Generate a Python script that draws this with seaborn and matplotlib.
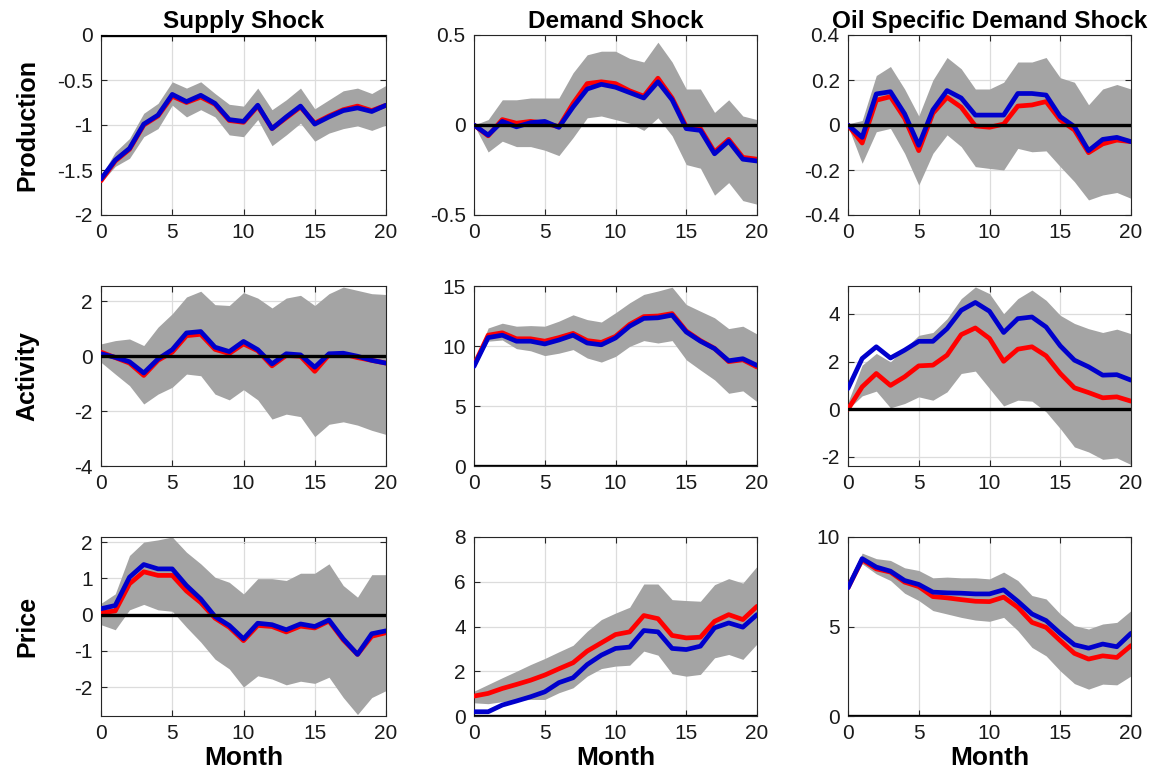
import numpy as np
import pandas as pd
import matplotlib
matplotlib.use("Agg")
import matplotlib.pyplot as plt
from matplotlib.ticker import FuncFormatter
import seaborn as sns

sns.set_style("ticks")
plt.rcParams["font.family"] = ["Liberation Sans", "DejaVu Sans"]
plt.rcParams["axes.unicode_minus"] = False

months = np.arange(21)

# ---- Production responses ----
sp_blue = [-1.60, -1.39, -1.26, -0.99, -0.89, -0.66, -0.74, -0.67, -0.76, -0.94, -0.96,
           -0.78, -1.04, -0.91, -0.79, -0.99, -0.91, -0.84, -0.81, -0.85, -0.78]
sp_red = [-1.62, -1.40, -1.27, -1.00, -0.90, -0.68, -0.75, -0.69, -0.77, -0.95, -0.97,
          -0.79, -1.04, -0.92, -0.80, -0.98, -0.90, -0.83, -0.79, -0.84, -0.78]
sp_hi = [-1.57, -1.30, -1.15, -0.87, -0.76, -0.52, -0.59, -0.52, -0.65, -0.77, -0.79,
         -0.59, -0.83, -0.72, -0.59, -0.82, -0.72, -0.62, -0.59, -0.65, -0.56]
sp_lo = [-1.64, -1.46, -1.37, -1.13, -1.04, -0.78, -0.91, -0.83, -0.91, -1.11, -1.13,
         -0.94, -1.23, -1.11, -0.98, -1.18, -1.09, -1.04, -1.01, -1.06, -1.00]

dp_blue = [0, -0.056, 0.02, -0.01, 0.013, 0.02, -0.013, 0.10, 0.20, 0.226, 0.21,
           0.18, 0.15, 0.24, 0.14, -0.02, -0.03, -0.16, -0.09, -0.19, -0.20]
dp_red = [0, -0.06, 0.03, 0.01, 0.02, 0.01, -0.01, 0.12, 0.23, 0.24, 0.23,
          0.19, 0.16, 0.26, 0.15, -0.01, -0.02, -0.15, -0.08, -0.18, -0.19]
dp_hi = [0, 0.03, 0.14, 0.14, 0.15, 0.15, 0.15, 0.29, 0.39, 0.41, 0.41,
         0.37, 0.35, 0.46, 0.35, 0.20, 0.20, 0.07, 0.14, 0.05, 0.03]
dp_lo = [0, -0.15, -0.09, -0.12, -0.12, -0.14, -0.17, -0.07, 0.04, 0.05, 0.03,
         0.01, -0.03, 0.04, -0.06, -0.22, -0.24, -0.39, -0.32, -0.42, -0.44]

op_blue = [0, -0.055, 0.138, 0.148, 0.05, -0.09, 0.067, 0.153, 0.12, 0.044, 0.044,
           0.044, 0.14, 0.14, 0.133, 0.037, -0.007, -0.114, -0.064, -0.055, -0.074]
op_red = [0, -0.08, 0.11, 0.126, 0.03, -0.114, 0.052, 0.123, 0.079, -0.004, -0.01,
          0.004, 0.084, 0.089, 0.104, 0.022, -0.022, -0.123, -0.084, -0.067, -0.074]
op_hi = [0.005, 0.02, 0.22, 0.26, 0.16, 0.04, 0.20, 0.30, 0.25, 0.16, 0.16,
         0.19, 0.28, 0.28, 0.30, 0.21, 0.19, 0.09, 0.16, 0.18, 0.16]
op_lo = [-0.005, -0.17, -0.03, -0.015, -0.126, -0.267, -0.126, -0.044, -0.096, -0.185, -0.193,
         -0.20, -0.104, -0.119, -0.115, -0.185, -0.252, -0.333, -0.311, -0.30, -0.326]

# ---- Activity responses ----
sa_blue = [0.09, -0.04, -0.2, -0.61, -0.1, 0.24, 0.85, 0.9, 0.33, 0.17, 0.54,
           0.24, -0.28, 0.09, 0.05, -0.4, 0.09, 0.11, 0.0, -0.15, -0.25]
sa_red = [0.15, -0.05, -0.25, -0.7, -0.15, 0.15, 0.75, 0.8, 0.25, 0.1, 0.45,
          0.2, -0.35, 0.03, 0.0, -0.55, 0.05, 0.08, -0.05, -0.15, -0.25]
sa_hi = [0.45, 0.57, 0.63, 0.39, 1.06, 1.55, 2.16, 2.37, 1.88, 1.85, 2.32,
         2.12, 1.76, 2.12, 2.22, 1.85, 2.28, 2.52, 2.4, 2.28, 2.25]
sa_lo = [-0.22, -0.65, -1.07, -1.74, -1.38, -1.13, -0.65, -0.71, -1.38, -1.59, -1.22,
         -1.59, -2.29, -2.11, -2.2, -2.93, -2.48, -2.39, -2.51, -2.7, -2.85]

da_blue = [8.3, 10.7, 10.9, 10.4, 10.4, 10.17, 10.5, 10.9, 10.25, 10.1, 10.67,
           11.65, 12.3, 12.35, 12.57, 11.17, 10.4, 9.78, 8.77, 8.94, 8.38]
da_red = [8.4, 10.9, 11.1, 10.6, 10.6, 10.4, 10.7, 11.05, 10.45, 10.3, 10.8,
          11.8, 12.45, 12.5, 12.7, 11.25, 10.45, 9.8, 8.7, 8.85, 8.25]
da_hi = [8.45, 11.5, 11.9, 11.65, 11.7, 11.65, 12.07, 12.6, 12.2, 12.0, 12.77,
         13.6, 14.3, 14.58, 14.9, 13.46, 12.9, 12.35, 11.45, 11.65, 11.0]
da_lo = [8.25, 10.4, 10.5, 9.78, 9.6, 9.2, 9.4, 9.7, 9.0, 8.66, 9.13,
         9.97, 10.45, 10.25, 10.45, 8.85, 8.0, 7.18, 6.06, 6.26, 5.36]

oa_blue = [0.87, 2.13, 2.62, 2.15, 2.48, 2.85, 2.85, 3.38, 4.15, 4.48, 4.11,
           3.22, 3.8, 3.87, 3.45, 2.66, 2.06, 1.78, 1.43, 1.45, 1.22]
oa_red = [0, 0.94, 1.5, 1.0, 1.36, 1.82, 1.85, 2.27, 3.13, 3.41, 2.97,
          2.01, 2.52, 2.62, 2.24, 1.5, 0.9, 0.7, 0.48, 0.52, 0.34]
oa_hi = [0.3, 1.85, 2.34, 1.99, 2.55, 3.1, 3.22, 3.8, 4.64, 5.13, 4.85,
         4.01, 4.64, 5.0, 4.57, 3.94, 3.6, 3.38, 3.22, 3.36, 3.17]
oa_lo = [0, 0.56, 0.76, 0.06, 0.24, 0.52, 0.38, 0.73, 1.5, 1.6, 0.87,
         0.14, 0.38, 0.34, -0.11, -0.81, -1.58, -1.79, -2.1, -2.04, -2.32]

# ---- Price responses ----
spr_blue = [0.16, 0.25, 1.03, 1.38, 1.26, 1.26, 0.8, 0.43, -0.055, -0.3, -0.67,
            -0.24, -0.28, -0.42, -0.26, -0.33, -0.15, -0.67, -1.1, -0.53, -0.45]
spr_red = [0.05, 0.1, 0.85, 1.18, 1.08, 1.08, 0.65, 0.33, -0.1, -0.35, -0.72,
           -0.3, -0.33, -0.48, -0.32, -0.37, -0.18, -0.7, -1.1, -0.6, -0.5]
spr_hi = [0.31, 0.57, 1.63, 2.0, 2.06, 2.14, 1.72, 1.4, 1.03, 0.89, 0.57,
          0.99, 0.99, 0.94, 1.14, 1.14, 1.4, 0.8, 0.48, 1.1, 1.1]
spr_lo = [-0.28, -0.42, 0.13, 0.28, 0.13, 0.09, -0.35, -0.76, -1.23, -1.5, -2.0,
          -1.69, -1.78, -1.94, -1.84, -1.9, -1.73, -2.29, -2.76, -2.29, -2.1]

dpr_blue = [0.19, 0.19, 0.49, 0.67, 0.86, 1.08, 1.49, 1.71, 2.3, 2.72, 3.02,
            3.08, 3.82, 3.76, 3.02, 2.97, 3.12, 3.94, 4.16, 3.97, 4.53]
dpr_red = [0.89, 1.01, 1.23, 1.41, 1.6, 1.83, 2.11, 2.38, 2.9, 3.27, 3.64,
           3.76, 4.49, 4.35, 3.6, 3.49, 3.52, 4.23, 4.53, 4.31, 4.9]
dpr_hi = [1.11, 1.41, 1.71, 2.0, 2.3, 2.57, 2.87, 3.16, 3.79, 4.31, 4.6,
          4.86, 5.9, 5.9, 5.2, 5.16, 5.13, 5.87, 6.14, 5.94, 6.69]
dpr_lo = [0.59, 0.55, 0.64, 0.7, 0.74, 0.74, 1.04, 1.26, 1.78, 2.12, 2.23,
          2.27, 2.9, 2.72, 1.89, 1.78, 1.86, 2.6, 2.75, 2.53, 3.22]

opr_blue = [7.16, 8.79, 8.32, 8.09, 7.57, 7.35, 6.92, 6.88, 6.86, 6.82, 6.82,
            7.05, 6.41, 5.7, 5.33, 4.62, 3.98, 3.79, 4.02, 3.87, 4.62]
opr_red = [7.16, 8.73, 8.22, 8.04, 7.48, 7.23, 6.67, 6.6, 6.5, 6.41, 6.39,
           6.64, 6.07, 5.23, 4.95, 4.21, 3.5, 3.18, 3.36, 3.27, 3.93]
opr_hi = [7.22, 9.1, 8.79, 8.69, 8.28, 8.13, 7.72, 7.76, 7.72, 7.72, 7.66,
          8.04, 7.57, 6.73, 6.54, 5.7, 5.05, 4.86, 5.14, 5.23, 5.89]
opr_lo = [7.1, 8.5, 7.94, 7.57, 6.86, 6.45, 5.89, 5.7, 5.51, 5.36, 5.29,
          5.51, 4.77, 3.83, 3.36, 2.52, 1.81, 1.5, 1.78, 1.74, 2.24]

shock_titles = ["Supply Shock", "Demand Shock", "Oil Specific Demand Shock"]
variable_labels = ["Production", "Activity", "Price"]

panels = [
    [(sp_blue, sp_red, sp_lo, sp_hi), (dp_blue, dp_red, dp_lo, dp_hi), (op_blue, op_red, op_lo, op_hi)],
    [(sa_blue, sa_red, sa_lo, sa_hi), (da_blue, da_red, da_lo, da_hi), (oa_blue, oa_red, oa_lo, oa_hi)],
    [(spr_blue, spr_red, spr_lo, spr_hi), (dpr_blue, dpr_red, dpr_lo, dpr_hi), (opr_blue, opr_red, opr_lo, opr_hi)],
]

y_limits = [
    [(-2, 0), (-0.5, 0.5), (-0.4, 0.4)],
    [(-4, 2.56), (0, 15), (-2.38, 5.17)],
    [(-2.8, 2.14), (0, 8), (0, 10)],
]
y_ticks = [
    [[-2, -1.5, -1, -0.5, 0], [-0.5, 0, 0.5], [-0.4, -0.2, 0, 0.2, 0.4]],
    [[-4, -2, 0, 2], [0, 5, 10, 15], [-2, 0, 2, 4]],
    [[-2, -1, 0, 1, 2], [0, 2, 4, 6, 8], [0, 5, 10]],
]

W, H = 1168, 780
fig = plt.figure(figsize=(W / 100, H / 100), dpi=100)

col_left = [101, 474, 848]
col_width = [285, 283, 283]
row_top = [35, 286, 537]
row_height = [180, 180, 179]

band_color = "#a4a4a4"
fmt = FuncFormatter(lambda v, pos: f"{v:g}")

for r in range(3):
    for c in range(3):
        left = col_left[c] / W
        bottom = 1 - (row_top[r] + row_height[r]) / H
        ax = fig.add_axes([left, bottom, col_width[c] / W, row_height[r] / H])
        blue, red, lo, hi = panels[r][c]
        ax.fill_between(months, lo, hi, color=band_color, linewidth=0, zorder=1)
        sns.lineplot(x=months, y=red, color="#ff0000", linewidth=3.4, ax=ax, zorder=3)
        sns.lineplot(x=months, y=blue, color="#0000cc", linewidth=3.4, ax=ax, zorder=4)
        ax.axhline(0, color="black", linewidth=2.4, zorder=5)

        ax.set_xlim(0, 20)
        ax.set_ylim(*y_limits[r][c])
        ax.set_xticks([0, 5, 10, 15, 20])
        ax.set_yticks(y_ticks[r][c])
        ax.yaxis.set_major_formatter(fmt)
        ax.set_axisbelow(True)
        ax.grid(True, color="#dcdcdc", linewidth=0.9)
        ax.tick_params(direction="in", length=4, width=0.8, top=True, right=True,
                       labelsize=15, colors="#262626", labelcolor="#1a1a1a")
        ax.tick_params(axis="y", pad=6)
        ax.tick_params(axis="x", pad=6)
        for sp in ax.spines.values():
            sp.set_color("#262626")
            sp.set_linewidth(0.8)
        ax.set_xlabel("")
        ax.set_ylabel("")

        if r == 0:
            ax.set_title(shock_titles[c], fontsize=17.5, fontweight="bold", pad=5,
                         color="black")
        if r == 2:
            ax.set_xlabel("Month", fontsize=19, fontweight="bold", labelpad=2,
                          color="black")

for r in range(3):
    yc = 1 - (row_top[r] + row_height[r] / 2) / H
    fig.text(27 / W, yc, variable_labels[r], rotation=90, ha="center", va="center",
             fontsize=18, fontweight="bold", color="black",
             family=["Liberation Sans Narrow", "Liberation Sans", "DejaVu Sans"])

fig.savefig("out.png", dpi=100)
